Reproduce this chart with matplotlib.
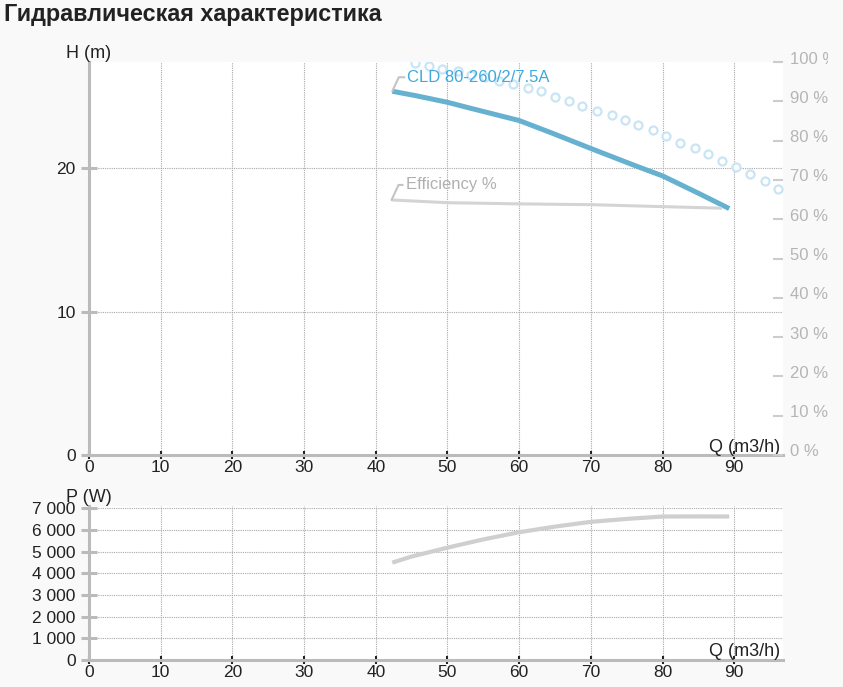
import matplotlib.pyplot as plt
from matplotlib.transforms import ScaledTranslation, Bbox, TransformedBbox

plt.rcParams['font.family'] = ['Liberation Sans', 'DejaVu Sans']

title = 'Гидравлическая характеристика'
pump_name = 'CLD 80-260/2/7.5A'

# head curve H(Q)
q_head = [42.3, 45.5, 50, 53.1, 60, 64.7, 70, 75, 77.2, 80, 85, 89.3]
head = [25.36, 25.06, 24.59, 24.19, 23.32, 22.42, 21.37, 20.40, 19.98, 19.46, 18.25, 17.18]

# efficiency curve, %
q_eff = [42.2, 50, 60, 70, 80, 88.3]
eff = [64.9, 64.2, 63.9, 63.7, 63.2, 62.8]

# light blue circles, % axis
q_dots = [45.5, 47.4, 49.3, 51.4, 53.3, 55.3, 57.2, 59.1, 61.2, 63.1, 65.0, 67.0, 68.8, 70.8,
          72.9, 74.8, 76.6, 78.6, 80.5, 82.4, 84.5, 86.4, 88.3, 90.3, 92.2, 94.3, 96.1]
dots = [99.7, 99.1, 98.3, 97.6, 96.8, 96.2, 95.1, 94.4, 93.4, 92.5, 91.2, 90.2, 88.9, 87.6,
        86.4, 85.2, 83.9, 82.7, 81.1, 79.5, 78.2, 76.6, 74.7, 73.3, 71.6, 69.6, 67.7]

# power curve P(Q)
q_pow = [42.3, 45, 50, 55, 60, 65, 70, 75, 80, 85, 89.3]
power = [4490, 4770, 5180, 5560, 5890, 6150, 6370, 6505, 6615, 6620, 6615]

q_ticks = list(range(0, 100, 10))
h_ticks = [0, 10, 20]
pct_ticks = list(range(0, 110, 10))
p_ticks = list(range(0, 8000, 1000))

W, H = 843, 687
bg = '#f9f9f9'
spine_c = '#bbbbbb'
grid_c = '#a8a8a8'
txt_c = '#222222'

fig = plt.figure(figsize=(W / 100, H / 100), dpi=100, facecolor=bg)
fig.text(4 / W, 1 - 15 / H, title, fontsize=16.8, fontweight='bold', color=txt_c,
         ha='left', va='center')


def px_axes(left, top, right, bottom):
    return fig.add_axes([left / W, 1 - bottom / H, (right - left) / W, (bottom - top) / H])


def style_axes(ax):
    ax.set_facecolor('white')
    for s in ['top', 'right']:
        ax.spines[s].set_visible(False)
    for s in ['left', 'bottom']:
        ax.spines[s].set_color(spine_c)
        ax.spines[s].set_linewidth(2.2)
    ax.set_xlim(0, 96.8)
    ax.set_xticks(q_ticks)
    ax.tick_params(axis='x', direction='inout', length=5.5, width=1.5, color=txt_c,
                   labelsize=12.5, labelcolor=txt_c, pad=1)
    ax.tick_params(axis='y', direction='inout', length=12, width=2.2, color=spine_c,
                   labelsize=12.5, labelcolor=txt_c, pad=3.5)
    ax.grid(True, ls=(0, (1, 1)), color=grid_c, lw=0.8)
    ax.set_axisbelow(True)
    ax.annotate('Q (m3/h)', xy=(1, 0), xycoords='axes fraction', xytext=(-3, 8),
                textcoords='offset pixels', ha='right', va='center', fontsize=13, color=txt_c)


# top chart: head + efficiency
ax = px_axes(89, 62, 783, 455)
style_axes(ax)
ax.set_ylim(0, 27.4)
ax.set_yticks(h_ticks)
ax.annotate('H (m)', xy=(0, 1), xycoords='axes fraction', xytext=(0, 9),
            textcoords='offset pixels', ha='center', va='center', fontsize=13, color=txt_c)

# percent scale on the right
ax2 = ax.twinx()
ax2.set_facecolor('none')
for s in ax2.spines.values():
    s.set_visible(False)
ax2.set_ylim(0, 100)
ax2.set_yticks(pct_ticks)
ax2.set_yticklabels([f'{v} %' for v in pct_ticks])
ax2.tick_params(axis='y', direction='in', length=7.2, width=1.5, color='#cccccc',
                labelsize=12, labelcolor='#b5b5b5', pad=5)
shift_up = ScaledTranslation(0, 4.5 / 100, fig.dpi_scale_trans)
# the chart area of the page ends a bit before the image edge
page_clip = TransformedBbox(Bbox([[0, 0], [828 / 100, H / 100]]), fig.dpi_scale_trans)
for lab in ax2.get_yticklabels():
    lab.set_transform(lab.get_transform() + shift_up)
    lab.set_clip_box(page_clip)
    lab.set_clip_on(True)

ax2.plot(q_dots, dots, 'o', ms=5.8, mfc='white', mec='#c9e5f5', mew=1.6)
ax2.plot(q_eff, eff, color='#d4d4d4', lw=2.2, solid_capstyle='butt')
ax.plot(q_head, head, color='#66b1cf', lw=3.6, solid_capstyle='butt', zorder=3)

leader = dict(arrowstyle='-', color='#c4c4c4', lw=1.5, shrinkA=0, shrinkB=0,
              relpos=(0, 0.5), connectionstyle='angle,angleA=0,angleB=65,rad=0')
ax2.annotate(pump_name, xy=(q_head[0], head[0]), xycoords=ax.transData, xytext=(15, 14),
             textcoords='offset pixels', ha='left', va='center', fontsize=12, color='#3fa9dc',
             arrowprops=leader, zorder=5)
ax2.annotate('Efficiency %', xy=(q_eff[0], eff[0]), xytext=(14, 15), textcoords='offset pixels',
             ha='left', va='center', fontsize=12, color='#b0b0b0', arrowprops=leader)

# bottom chart: power
axp = px_axes(89, 506, 783, 660)
style_axes(axp)
axp.set_ylim(0, 7100)
axp.set_yticks(p_ticks)
axp.set_yticklabels([f'{v:,}'.replace(',', ' ') for v in p_ticks])
axp.annotate('P (W)', xy=(0, 1), xycoords='axes fraction', xytext=(0, 9),
             textcoords='offset pixels', ha='center', va='center', fontsize=13, color=txt_c)
axp.plot(q_pow, power, color='#cfcfcf', lw=3, solid_capstyle='butt')

fig.savefig('out.png', dpi=100, facecolor=bg)
